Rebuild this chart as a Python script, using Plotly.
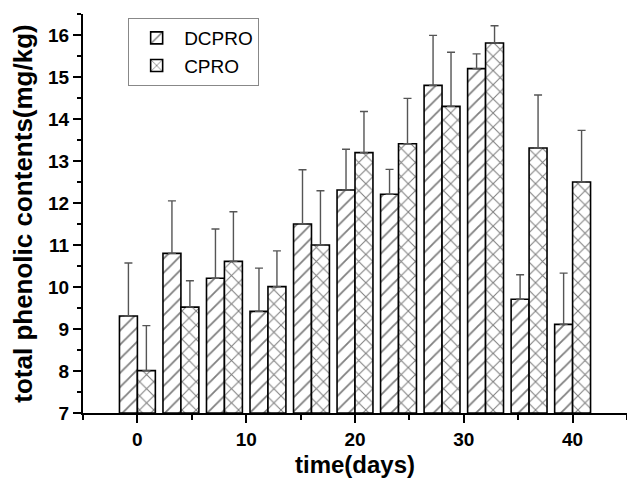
import plotly.graph_objects as go

# Sampling days
days = [0, 4, 8, 12, 16, 20, 24, 28, 32, 36, 40]

# Total phenolic contents (mg/kg) and standard deviations
dcpro_mean = [9.31, 10.80, 10.21, 9.42, 11.50, 12.31, 12.21, 14.80, 15.20, 9.71, 9.11]
dcpro_sd = [1.26, 1.25, 1.17, 1.03, 1.29, 0.97, 0.59, 1.19, 0.35, 0.58, 1.22]
cpro_mean = [8.01, 9.52, 10.61, 10.01, 11.00, 13.20, 13.41, 14.30, 15.81, 13.31, 12.50]
cpro_sd = [1.07, 0.63, 1.18, 0.85, 1.29, 0.98, 1.08, 1.29, 0.41, 1.26, 1.23]

x_ticks = [0, 10, 20, 30, 40]
y_ticks = [7, 8, 9, 10, 11, 12, 13, 14, 15, 16]

FONT = "Liberation Sans, Arial, sans-serif"


def bar_trace(name, means, sds, shape, size, solidity):
    return go.Bar(
        name=name,
        x=days,
        y=[m - 7 for m in means],
        base=7,
        marker=dict(
            color="white",
            line=dict(color="black", width=1.6),
            pattern=dict(shape=shape, fgcolor="black", bgcolor="white",
                         size=size, solidity=solidity),
        ),
        error_y=dict(type="data", symmetric=False, array=sds,
                     arrayminus=[0] * len(sds),
                     color="#555555", thickness=1.4, width=4),
    )


fig = go.Figure()
fig.add_trace(bar_trace("DCPRO", dcpro_mean, dcpro_sd, "/", 10, 0.18))
fig.add_trace(bar_trace("CPRO", cpro_mean, cpro_sd, "x", 10, 0.2))

fig.update_layout(
    width=627,
    height=478,
    margin=dict(l=83, r=0, t=14, b=65),
    paper_bgcolor="white",
    plot_bgcolor="white",
    barmode="group",
    bargap=0.175,
    bargroupgap=0,
    font=dict(family=FONT, color="black"),
    legend=dict(
        x=0.083, y=0.99, xanchor="left", yanchor="top",
        bgcolor="white", bordercolor="#888888", borderwidth=1,
        font=dict(size=19, family=FONT),
        itemwidth=45,
        tracegroupgap=0,
    ),
    xaxis=dict(
        range=[-5, 45],
        tickmode="array", tickvals=x_ticks,
        ticks="outside", ticklen=8, tickwidth=2, tickcolor="black",
        minor=dict(dtick=5, ticks="outside", ticklen=5, tickwidth=1.5,
                   tickcolor="black"),
        showline=True, linecolor="black", linewidth=2,
        showgrid=False, zeroline=False,
        tickfont=dict(size=19, family=FONT, weight="bold"),
        title=dict(text="time(days)", standoff=8,
                   font=dict(size=24, family=FONT, weight="bold")),
    ),
    yaxis=dict(
        range=[7, 16.5],
        tickmode="array", tickvals=y_ticks,
        ticks="outside", ticklen=8, tickwidth=2, tickcolor="black",
        minor=dict(dtick=0.5, ticks="outside", ticklen=4, tickwidth=1.5,
                   tickcolor="black"),
        showline=True, linecolor="black", linewidth=2,
        showgrid=False, zeroline=False,
        tickfont=dict(size=19, family=FONT, weight="bold"),
        title=dict(text="total phenolic contents(mg/kg)", standoff=8,
                   font=dict(size=26, family=FONT, weight="bold")),
    ),
)

fig.write_html("out.html")
